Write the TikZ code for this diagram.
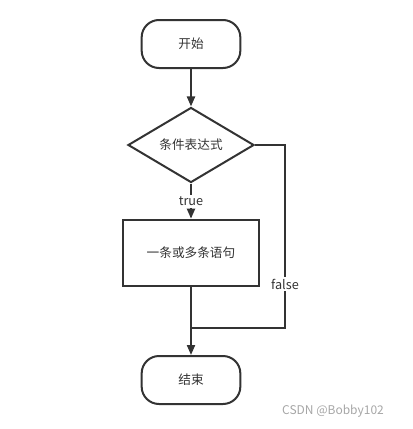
\documentclass[tikz,border=0pt]{standalone}
\usepackage{fontspec}
\setmainfont{Noto Sans CJK SC}
\usetikzlibrary{arrows.meta,shapes.geometric}
\definecolor{ink}{HTML}{333333}

\begin{document}
\begin{tikzpicture}[x=0.75pt,y=-0.75pt,
                    line width=1.5pt,draw=ink,text=ink,
                    font=\fontsize{9.5}{11}\selectfont,
                    >={Triangle[width=6pt,length=7.5pt]},
                    terminal/.style={rectangle,rounded corners=13pt,draw=ink,
                      minimum width=74pt,minimum height=36pt},
                    decision/.style={diamond,draw=ink,inner sep=0pt,
                      minimum width=94.5pt,minimum height=52.5pt},
                    process/.style={rectangle,draw=ink,
                      minimum width=102pt,minimum height=50pt},
                    label node/.style={fill=white,inner sep=1.5pt}]
  \useasboundingbox (0,0) rectangle (412,429);

  \node[terminal] (start) at (191,44) {开始};
  \node[decision] (cond) at (191,145) {条件表达式};
  \node[process] (body) at (191,253) {一条或多条语句};
  \node[terminal] (stop) at (191,380) {结束};
  \coordinate (join) at (191,328);
  \coordinate (side) at (285,145);

  \draw[->,ink] (start) -- (cond);
  \draw[->,ink] (cond) -- node[label node] {true} (body);
  \draw[ink] (cond.east) -- (side) |- node[label node,pos=0.38] {false} (join);
  \draw[->,ink] (body) -- (stop);

  % watermark
  \node[text=gray!70,font=\fontsize{9}{10}\selectfont] (mark) at (333,411) {CSDN @Bobby102};
\end{tikzpicture}
\end{document}
